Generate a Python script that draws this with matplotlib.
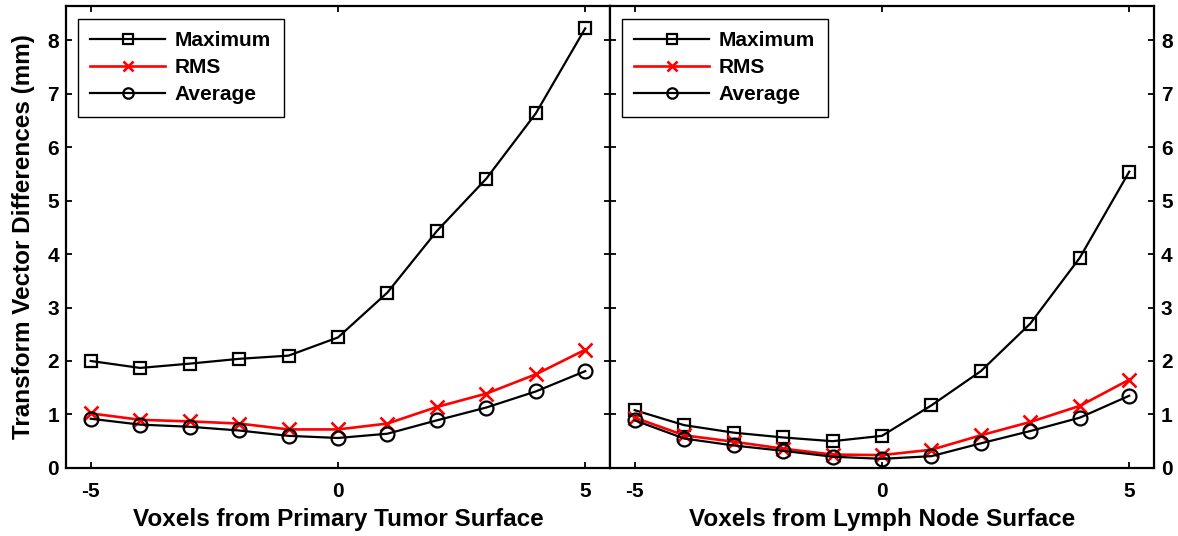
'''Transform vector differences vs. voxel distance from surface, two panels.'''

import matplotlib
matplotlib.use('Agg')
import matplotlib.pyplot as plt

plt.rcParams['font.family'] = ['Liberation Sans', 'DejaVu Sans']
plt.rcParams['font.weight'] = 'bold'
plt.rcParams['axes.unicode_minus'] = False

# Voxel offsets
voxels = [-5, -4, -3, -2, -1, 0, 1, 2, 3, 4, 5]

# Primary tumor surface
tumor_max = [2.00, 1.87, 1.95, 2.04, 2.10, 2.44, 3.28, 4.43, 5.41, 6.63, 8.22]
tumor_rms = [1.02, 0.90, 0.87, 0.83, 0.72, 0.72, 0.83, 1.14, 1.39, 1.75, 2.21]
tumor_avg = [0.92, 0.81, 0.77, 0.70, 0.60, 0.56, 0.64, 0.89, 1.13, 1.43, 1.81]

# Lymph node surface
node_max = [1.08, 0.80, 0.66, 0.57, 0.50, 0.60, 1.17, 1.81, 2.70, 3.93, 5.54]
node_rms = [0.94, 0.61, 0.49, 0.36, 0.25, 0.24, 0.34, 0.61, 0.86, 1.16, 1.65]
node_avg = [0.89, 0.55, 0.42, 0.32, 0.21, 0.17, 0.22, 0.46, 0.69, 0.94, 1.35]

y_ticks = [0, 1, 2, 3, 4, 5, 6, 7, 8]
x_ticks = [-5, 0, 5]

TICK_FS = 15
LABEL_FS = 17.5
LEGEND_FS = 15


def draw_panel(ax, y_max, y_rms, y_avg, xlabel):
    '''Draws one panel with the three series and a legend.'''

    ax.plot(voxels, y_max, color='black', lw=1.6, marker='s', ms=9,
            mfc='none', mec='black', mew=1.6, label='Maximum')
    ax.plot(voxels, y_rms, color='red', lw=1.9, marker='x', ms=10,
            mew=1.9, label='RMS')
    ax.plot(voxels, y_avg, color='black', lw=1.6, marker='o', ms=10,
            mfc='none', mec='black', mew=1.6, label='Average')

    ax.set_xlim(-5.5, 5.5)
    ax.set_ylim(0, 8.64)
    ax.set_xticks(x_ticks)
    ax.set_yticks(y_ticks)
    ax.tick_params(direction='in', length=4, width=1.3, labelsize=TICK_FS,
                   top=True, right=True)
    ax.tick_params(axis='x', pad=10)
    ax.tick_params(axis='y', pad=5)
    for spine in ax.spines.values():
        spine.set_linewidth(1.6)
    ax.set_xlabel(xlabel, fontsize=LABEL_FS, fontweight='bold', labelpad=5)

    leg = ax.legend(loc='upper left', bbox_to_anchor=(0.022, 0.972),
                    borderaxespad=0, fancybox=False, framealpha=1,
                    edgecolor='black', fontsize=LEGEND_FS, handlelength=3.6,
                    labelspacing=0.38, borderpad=0.6, handletextpad=0.45,
                    markerscale=0.75)
    leg.get_frame().set_linewidth(1.0)


if __name__ == "__main__":

    fig = plt.figure(figsize=(11.78, 5.36), dpi=100)
    ax1 = fig.add_axes([0.056, 0.127, 0.4618, 0.862])
    ax2 = fig.add_axes([0.5178, 0.127, 0.4618, 0.862])

    draw_panel(ax1, tumor_max, tumor_rms, tumor_avg,
               'Voxels from Primary Tumor Surface')
    draw_panel(ax2, node_max, node_rms, node_avg,
               'Voxels from Lymph Node Surface')

    ax1.set_ylabel('Transform Vector Differences (mm)', fontsize=LABEL_FS,
                   fontweight='bold', labelpad=9)
    ax2.yaxis.tick_right()
    ax2.tick_params(left=True, right=True)

    fig.savefig('out.png', dpi=100)
